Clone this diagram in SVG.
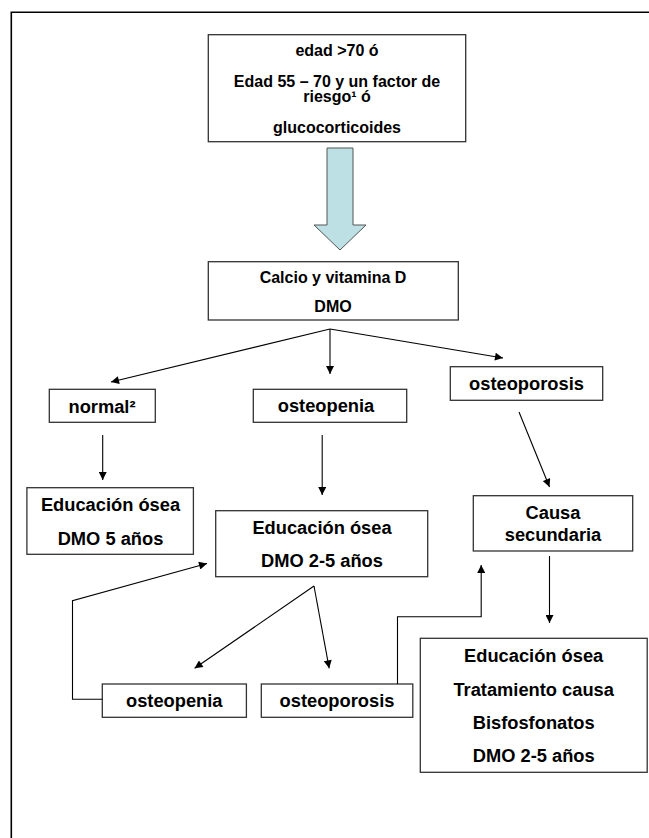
<svg xmlns="http://www.w3.org/2000/svg" width="649" height="838" viewBox="0 0 649 838">
  <style>
    .box { fill: #ffffff; stroke: #333333; stroke-width: 1.3; }
    .t { font-family: "Liberation Sans", Arial, sans-serif; font-weight: bold; fill: #000000; text-anchor: middle; }
    .s16 { font-size: 16px; }
    .s18 { font-size: 18.3px; }
    .conn { fill: none; stroke: #000000; stroke-width: 1.1; }
    .frame { fill: none; stroke: #000000; stroke-width: 1.6; }
  </style>
  <defs>
    <marker id="ah" viewBox="0 0 10 10" refX="10" refY="5" markerUnits="userSpaceOnUse" markerWidth="10" markerHeight="8" orient="auto">
      <path d="M0,0 L10,5 L0,10 z" fill="#000000"/>
    </marker>
  </defs>
  <rect width="649" height="838" fill="#ffffff"/>
  <path class="frame" d="M11.3,838 L11.3,12.3 L649,12.3"/>

  <g id="n-criterios">
    <rect class="box" x="208.3" y="34.7" width="257.4" height="107"/>
    <text class="t s16" x="337" y="56">edad &gt;70 ó</text>
    <text class="t s16" x="337" y="86.5">Edad 55 – 70 y un factor de</text>
    <text class="t s16" x="337" y="102">riesgo¹ ó</text>
    <text class="t s16" x="337" y="132.5">glucocorticoides</text>
  </g>

  <g id="n-bigarrow">
    <polygon points="327,148 353,148 353,225 366,225 340,250 314,225 327,225" fill="#BCE0E4" stroke="#555555" stroke-width="1"/>
  </g>

  <g id="n-calcio">
    <rect class="box" x="208.3" y="261.7" width="250" height="58.3"/>
    <text class="t s16" x="333" y="283.3">Calcio y vitamina D</text>
    <text class="t s16" x="333" y="311.7">DMO</text>
  </g>

  <g id="n-normal">
    <rect class="box" x="49.3" y="389.3" width="106" height="33"/>
    <text class="t s18" x="102" y="412.7">normal²</text>
  </g>

  <g id="n-osteopenia1">
    <rect class="box" x="253.3" y="389.3" width="153.4" height="33"/>
    <text class="t s18" x="326" y="412.3">osteopenia</text>
  </g>

  <g id="n-osteoporosis1">
    <rect class="box" x="450.3" y="366.7" width="152.4" height="33.6"/>
    <text class="t s18" x="526.5" y="390">osteoporosis</text>
  </g>

  <g id="n-educ5">
    <rect class="box" x="26.9" y="487.7" width="166.5" height="66.6"/>
    <text class="t s18" x="110.5" y="510.8">Educación ósea</text>
    <text class="t s18" x="110.5" y="544.7">DMO 5 años</text>
  </g>

  <g id="n-educ25">
    <rect class="box" x="215.7" y="510.7" width="212" height="66"/>
    <text class="t s18" x="322" y="533.5">Educación ósea</text>
    <text class="t s18" x="322" y="566.7">DMO 2-5 años</text>
  </g>

  <g id="n-causa">
    <rect class="box" x="473.3" y="495.7" width="159.4" height="55.3"/>
    <text class="t s18" x="553" y="519.3">Causa</text>
    <text class="t s18" x="553" y="540.7">secundaria</text>
  </g>

  <g id="n-osteopenia2">
    <rect class="box" x="102.3" y="684" width="144.1" height="33.3"/>
    <text class="t s18" x="174.3" y="706.7">osteopenia</text>
  </g>

  <g id="n-osteoporosis2">
    <rect class="box" x="261.3" y="684" width="151.5" height="33.3"/>
    <text class="t s18" x="337" y="706.7">osteoporosis</text>
  </g>

  <g id="n-tratamiento">
    <rect class="box" x="420.3" y="638.3" width="226.9" height="134"/>
    <text class="t s18" x="533.7" y="661.7">Educación ósea</text>
    <text class="t s18" x="533.7" y="695.7">Tratamiento causa</text>
    <text class="t s18" x="533.7" y="729">Bisfosfonatos</text>
    <text class="t s18" x="533.7" y="762.3">DMO 2-5 años</text>
  </g>

  <g id="connectors">
    <line class="conn" x1="330" y1="329" x2="111" y2="382" marker-end="url(#ah)"/>
    <line class="conn" x1="330" y1="329" x2="330" y2="374" marker-end="url(#ah)"/>
    <line class="conn" x1="330" y1="329" x2="503" y2="358" marker-end="url(#ah)"/>
    <line class="conn" x1="102.7" y1="435" x2="102.7" y2="480" marker-end="url(#ah)"/>
    <line class="conn" x1="322.2" y1="435" x2="322.2" y2="495" marker-end="url(#ah)"/>
    <line class="conn" x1="519" y1="412" x2="549.5" y2="487" marker-end="url(#ah)"/>
    <line class="conn" x1="549.5" y1="556" x2="549.5" y2="623" marker-end="url(#ah)"/>
    <polyline class="conn" points="102.3,699.3 72.5,699.3 72.5,600.7 207,563.5" marker-end="url(#ah)"/>
    <line class="conn" x1="314" y1="586" x2="194.6" y2="668.3" marker-end="url(#ah)"/>
    <line class="conn" x1="314" y1="586" x2="329.2" y2="668.3" marker-end="url(#ah)"/>
    <polyline class="conn" points="397.5,684 397.5,616.7 481.2,616.7 481.2,565" marker-end="url(#ah)"/>
  </g>
</svg>
